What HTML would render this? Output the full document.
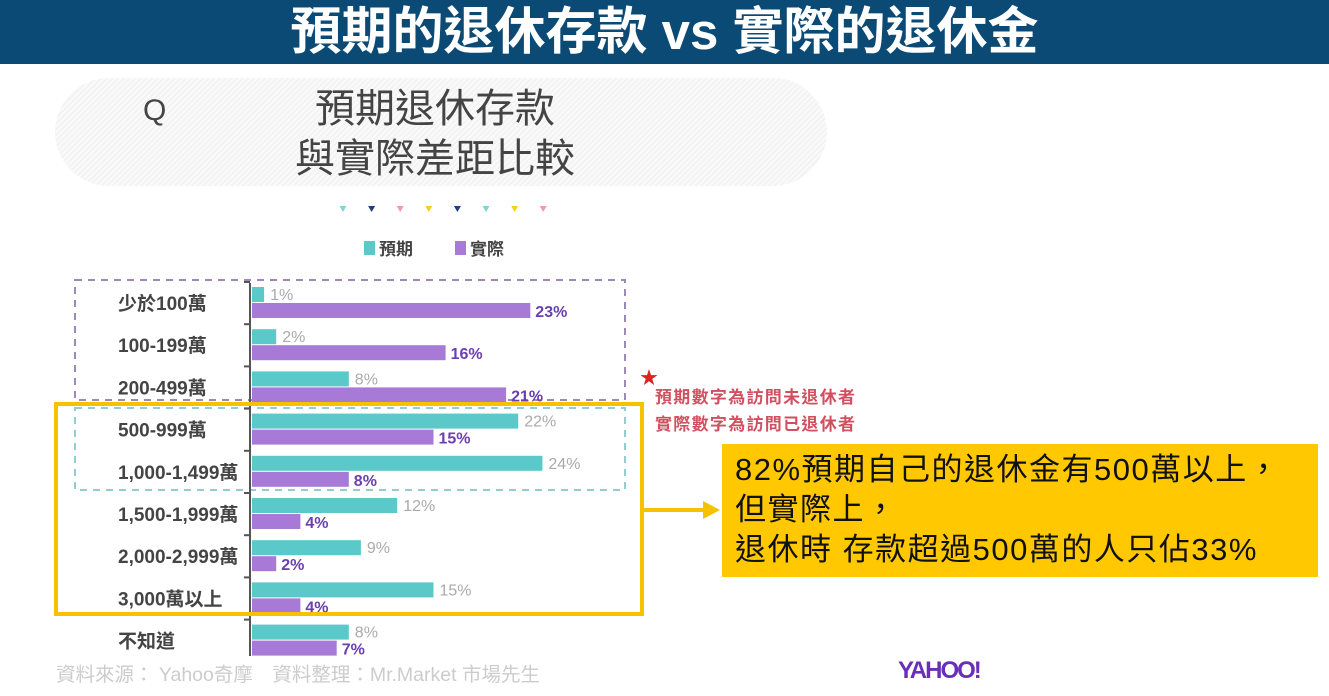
<!DOCTYPE html>
<html><head><meta charset="utf-8"><style>
body{margin:0;width:1329px;height:696px;background:#fff;overflow:hidden;position:relative;font-family:"Liberation Sans","Noto Sans CJK TC",sans-serif}
.abs{position:absolute}
</style></head><body>
<div class="abs" style="left:0;top:0;width:1329px;height:64px;background:#0b4a74"></div>
<div class="abs" style="left:0;top:2px;width:1329px;text-align:center;color:#fff;font-size:51px;font-weight:bold;line-height:60px">預期的退休存款 vs 實際的退休金</div>
<div class="abs" style="left:55px;top:78px;width:772px;height:108px;border-radius:54px;background:repeating-linear-gradient(135deg,#f3f3f3 0 2px,#fafafa 2px 4px)"></div>
<div class="abs" style="left:143px;top:94px;font-size:30px;color:#444">Q</div>
<div class="abs" style="left:240px;top:84px;width:390px;text-align:center;font-size:40px;line-height:50px;color:#444">預期退休存款<br>與實際差距比較</div>
<svg class="abs" width="1329" height="696" style="left:0;top:0">
<g id="tri"></g>
<rect x="364" y="241" width="11" height="14" fill="#5bc8c9"/>
<text x="379" y="255" font-size="17" font-weight="bold" fill="#444">預期</text>
<rect x="455" y="241" width="11" height="14" fill="#a77ad8"/>
<text x="470" y="255" font-size="17" font-weight="bold" fill="#444">實際</text>
<rect x="75" y="280" width="550" height="120" fill="none" stroke="#9b8ab8" stroke-width="2" stroke-dasharray="7,6"/>
<rect x="75" y="408" width="550" height="82" fill="none" stroke="#8fcfcf" stroke-width="2" stroke-dasharray="7,6"/>
<line x1="250" y1="283" x2="250" y2="656" stroke="#555" stroke-width="2"/>
<g id="bars"></g>
<rect x="56" y="404" width="586" height="210" fill="none" stroke="#f6c200" stroke-width="4"/>
<path d="M642 510 H705" stroke="#f6c200" stroke-width="4"/>
<polygon points="703,501 720,510 703,519" fill="#f6c200"/>
<text x="640" y="384" font-size="18" fill="#d22">★</text>
<text x="655" y="403" font-size="17" font-weight="bold" fill="#d0505f" letter-spacing="1.3">預期數字為訪問未退休者</text>
<text x="655" y="430" font-size="17" font-weight="bold" fill="#d0505f" letter-spacing="1.3">實際數字為訪問已退休者</text>
<text x="56" y="681" font-size="19.5" fill="#ccc">資料來源： Yahoo奇摩　資料整理：Mr.Market 市場先生</text>
<text x="898" y="678" font-size="24" font-weight="bold" fill="#6a2fb8" letter-spacing="-2">YAHOO!</text>
</svg>
<div class="abs" style="left:722px;top:444px;width:596px;height:133px;background:#ffc800"></div>
<div class="abs" style="left:735px;top:450px;font-size:31px;line-height:40px;color:#111;letter-spacing:1.5px">82%預期自己的退休金有500萬以上，<br>但實際上，<br>退休時 存款超過500萬的人只佔33%</div>
<script>
const categories=["少於100萬","100-199萬","200-499萬","500-999萬","1,000-1,499萬","1,500-1,999萬","2,000-2,999萬","3,000萬以上","不知道"];
const expected=[1,2,8,22,24,12,9,15,8];
const actual=[23,16,21,15,8,4,2,4,7];
const triColors=["#7fd6d0","#1f3f7a","#f29aa8","#f2d21a","#1f3f7a","#7fd6d0","#f2d21a","#f29aa8"];
const NS="http://www.w3.org/2000/svg";
const x0=252,pxPer=12.1,rowTop=287,rowH=42.2,bh=15;
const xs=v=>x0+v*pxPer;
function mk(t,a,p){const e=document.createElementNS(NS,t);for(const k in a)e.setAttribute(k,a[k]);p.appendChild(e);return e;}
const g=document.getElementById('bars');
categories.forEach((c,i)=>{
 const y=rowTop+i*rowH;
 const tk=mk('line',{x1:244,x2:250,y1:y-5,y2:y-5,stroke:'#555','stroke-width':2},g);
 
 
 const lb=mk('text',{x:118,y:y+23,'font-size':19,'font-weight':'bold',fill:'#444'},g);lb.textContent=c;
 
 
 const b1=mk('rect',{x:x0,y:y,width:expected[i]*pxPer,height:bh,fill:'#5bc8c9'},g);
 
 
 const t1=mk('text',{x:xs(expected[i])+6,y:y+13,'font-size':16,fill:'#aaa'},g);t1.textContent=expected[i]+'%';
 
 
 const b2=mk('rect',{x:x0,y:y+bh+1,width:actual[i]*pxPer,height:bh,fill:'#a77ad8'},g);
 
 
 const t2=mk('text',{x:xs(actual[i])+5,y:y+bh+15,'font-size':16,'font-weight':'bold',fill:'#6a3fb0'},g);t2.textContent=actual[i]+'%';
 
 
});
const tg=document.getElementById('tri');
triColors.forEach((c,i)=>{const x=343+i*28.6;
 const p=mk('polygon',{points:`${x-3.5},206 ${x+3.5},206 ${x},212`,fill:c},tg);
 
 });
</script>
</body></html>
